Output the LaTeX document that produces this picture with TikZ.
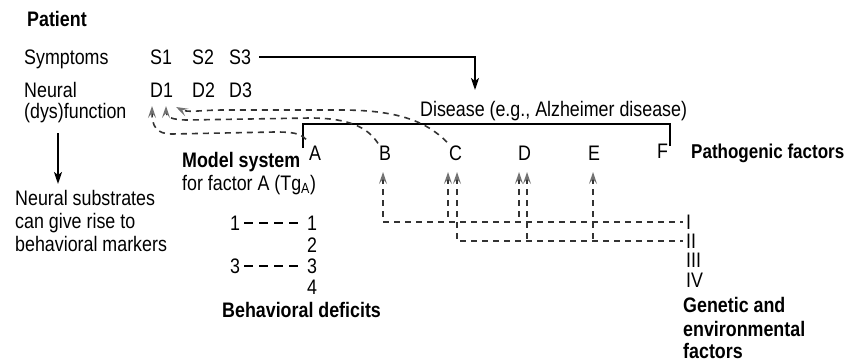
\documentclass[tikz,border=0pt]{standalone}
\usepackage{fontspec}
\setmainfont[FakeStretch=0.85]{Liberation Sans}
\usetikzlibrary{arrows.meta}
\tikzset{gtip/.tip={Stealth[length=12pt,width=8pt,inset=5pt,color=black!55]}}
\begin{document}
\begin{tikzpicture}[x=1pt,y=-1pt,
  txt/.style={font=\fontsize{21}{25}\selectfont, inner sep=0pt, anchor=base west, text=black},
  btxt/.style={txt, font=\fontsize{21}{25}\selectfont\bfseries},
  solidline/.style={draw=black, line width=2pt},
  solidarrow/.style={solidline, -{Stealth[length=12pt,width=8pt,inset=3pt]}},
  ddash/.style={draw=black!80, line width=1.6pt, dash pattern=on 6pt off 5pt},
  bdash/.style={draw=black, line width=1.6pt, dash pattern=on 9pt off 6pt}
]
\useasboundingbox (0,0) rectangle (851,361);

% Patient side
\node[btxt] (patient) at (27,27) {Patient};
\node[txt] (symp) at (24,64) {Symptoms};
\node[txt] (s1) at (150,64) {S1};
\node[txt] (s2) at (192,64) {S2};
\node[txt] (s3) at (229,64) {S3};
\node[txt] (neur) at (24,97) {Neural};
\node[txt] (dysf) at (24,118) {(dys)function};
\node[txt] (d1) at (150,97) {D1};
\node[txt] (d2) at (192,97) {D2};
\node[txt] (d3) at (229,97) {D3};

\node[txt] (ns1) at (15,205) {Neural substrates};
\node[txt] (ns2) at (15,228) {can give rise to};
\node[txt] (ns3) at (15,251) {behavioral markers};
\coordinate (ltop) at (58,133);
\coordinate (lbot) at (58,184);
\draw[solidarrow] (ltop) -- (lbot);

% Disease
\node[txt] (dis) at (420,116) {Disease (e.g., Alzheimer disease)};
\coordinate (dtip) at (475,90);
\draw[solidarrow] ([xshift=8pt]s3.east) -| (dtip);

% bracket
\coordinate (bl) at (303,148);
\coordinate (br) at (670,146);
\draw[solidline] (bl) -- (303,124) -- (670,124) -- (br);

% Pathogenic factors
\node[txt] (fA) at (309,160) {A};
\node[txt] (fB) at (379,160) {B};
\node[txt] (fC) at (449,160) {C};
\node[txt] (fD) at (518,160) {D};
\node[txt] (fE) at (588,160) {E};
\node[txt] (fF) at (657,158) {F};
\node[btxt, font=\fontsize{20}{24}\selectfont\bfseries] (patho) at (691,158) {Pathogenic factors};

\node[btxt] (model) at (182,167) {Model system};
\node[txt] (forA) at (182,190) {for factor A (Tg\textsubscript{A})};

% dashed curves to D1
\coordinate (t1) at (152,106);
\coordinate (t2) at (166,106);
\coordinate (t3) at (176,107);
\draw[ddash, -{gtip}] ([xshift=-3pt,yshift=6pt]fA.north west)
  .. controls (300,133) and (292,132) .. (275,132) -- (172,134)
  .. controls (156,134) and (152,126) .. (t1);
\draw[ddash, -{gtip}] ([xshift=-1pt,yshift=2pt]fB.north west)
  .. controls (368,128) and (350,118) .. (310,118) -- (188,120)
  .. controls (172,120) and (166,117) .. (t2);
\draw[ddash, -{gtip}] ([xshift=-2pt,yshift=3pt]fC.north west)
  .. controls (425,120) and (395,110) .. (340,110) -- (225,110)
  .. controls (200,110) and (188,113) .. (t3);

% Behavioral deficits
\node[txt] (bl1) at (230,230) {1};
\node[txt] (br1) at (307,230) {1};
\node[txt] (br2) at (307,252) {2};
\node[txt] (bl3) at (230,273) {3};
\node[txt] (br3) at (307,273) {3};
\node[txt] (br4) at (307,294) {4};
\node[btxt] (bdef) at (222,317) {Behavioral deficits};
\draw[bdash] ([xshift=4pt]bl1.east) -- ([xshift=-6pt]br1.west);
\draw[bdash] ([xshift=4pt]bl3.east) -- ([xshift=-6pt]br3.west);

% Genetic and environmental factors
\node[txt] (gI) at (686,229) {I};
\node[txt] (gII) at (686,248) {II};
\node[txt] (gIII) at (686,267) {III};
\node[txt] (gIV) at (686,287) {IV};
\node[btxt] (gen1) at (683,312) {Genetic and};
\node[btxt] (gen2) at (683,336) {environmental};
\node[btxt] (gen3) at (683,358) {factors};

\coordinate (tB) at (383,172);
\coordinate (tCl) at (448,172);
\coordinate (tCr) at (457,172);
\coordinate (tDl) at (519,172);
\coordinate (tDr) at (527,172);
\coordinate (tE) at (593,172);
\draw[ddash, {gtip}-] (tB) |- ([xshift=-3pt]gI.west);
\draw[ddash, {gtip}-] (tCl) -- (tCl |- gI.west);
\draw[ddash, {gtip}-] (tDl) -- (tDl |- gI.west);
\draw[ddash, {gtip}-] (tCr) |- ([xshift=-3pt]gII.west);
\draw[ddash, {gtip}-] (tDr) -- (tDr |- gII.west);
\draw[ddash, {gtip}-] (tE) -- (tE |- gII.west);
\end{tikzpicture}
\end{document}
